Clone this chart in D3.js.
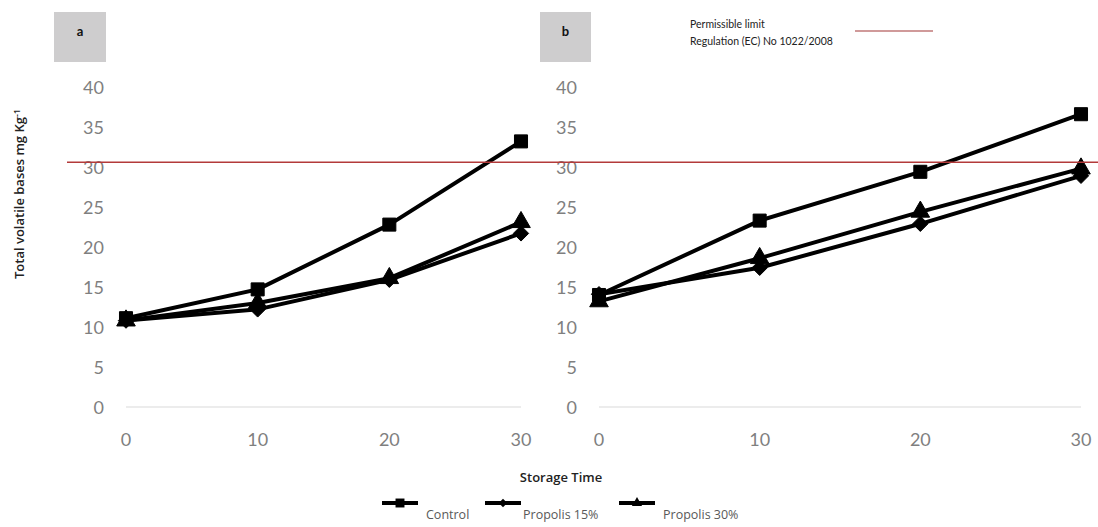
<!DOCTYPE html>
<html>
<head>
<meta charset="utf-8">
<script src="https://d3js.org/d3.v7.min.js"></script>
<style>
  body { margin: 0; background: #fff; }
  text { font-family: Lato, "Open Sans", sans-serif; }
</style>
</head>
<body>
<div id="vis"></div>
<script>
var width = 1098;
var height = 527;

// storage time (days)
var days = [0, 10, 20, 30];
var yTicks = [0, 5, 10, 15, 20, 25, 30, 35, 40];
var limit = 30.6;

// panel a
var controlA = [11.1, 14.7, 22.8, 33.2];
var prop15A = [10.8, 12.2, 15.9, 21.7];
var prop30A = [10.8, 13.0, 16.1, 23.1];

// panel b
var controlB = [14.0, 23.3, 29.4, 36.6];
var prop15B = [14.1, 17.4, 22.9, 28.9];
var prop30B = [13.2, 18.6, 24.4, 29.8];

var seriesNames = ["Control", "Propolis 15%", "Propolis 30%"];
var markers = ["square", "diamond", "triangle"];

var canvas = d3.select("#vis")
  .append("svg")
  .attr("width", width)
  .attr("height", height)
  .style("background-color", "#fff");

const y = d3.scaleLinear()
  .domain([0, 40])
  .range([407, 87]);

function markerPath(kind, size) {
  var sym = kind == "square" ? d3.symbolSquare : kind == "diamond" ? d3.symbolDiamond2 : d3.symbolTriangle;
  return d3.symbol().type(sym).size(size)();
}

function drawPanel(x0, x1, labelRight, box, letter, series) {
  const x = d3.scaleLinear()
    .domain([0, 30])
    .range([x0, x1]);

  // label box
  canvas.append("rect")
    .attr("x", box[0]).attr("y", 12)
    .attr("width", box[1] - box[0]).attr("height", 50)
    .style("fill", "#cecdce");
  canvas.append("text")
    .attr("x", (box[0] + box[1]) / 2)
    .attr("y", 36)
    .attr("text-anchor", "middle")
    .style("font-size", "13px")
    .style("font-weight", "bold")
    .style("fill", "#111")
    .text(letter);

  // zero gridline
  canvas.append("line")
    .attr("x1", x0).attr("x2", x1)
    .attr("y1", y(0)).attr("y2", y(0))
    .style("stroke", "#d9d9d9")
    .style("stroke-width", 1.2);

  // y tick labels
  canvas.append("g").selectAll("text")
    .data(yTicks)
    .enter()
    .append("text")
    .attr("x", labelRight)
    .attr("y", d => y(d) + 6.5)
    .attr("text-anchor", "end")
    .style("font-size", "18px")
    .style("fill", "#7f7f7f")
    .text(d => d);

  // x tick labels
  canvas.append("g").selectAll("text")
    .data(days)
    .enter()
    .append("text")
    .attr("x", d => x(d))
    .attr("y", 446)
    .attr("text-anchor", "middle")
    .style("font-size", "18px")
    .style("fill", "#7f7f7f")
    .text(d => d);

  const line = d3.line()
    .x((d, i) => x(days[i]))
    .y(d => y(d));

  series.forEach(function (vals, k) {
    canvas.append("path")
      .datum(vals)
      .attr("d", line)
      .style("fill", "none")
      .style("stroke", "#000")
      .style("stroke-width", 4)
      .style("stroke-linejoin", "round");
  });
  series.forEach(function (vals, k) {
    var sz = markers[k] == "square" ? 170 : 150;
    canvas.append("g").selectAll("path")
      .data(vals)
      .enter()
      .append("path")
      .attr("d", markerPath(markers[k], sz))
      .attr("transform", (d, i) => `translate(${x(days[i])}, ${y(d)})`)
      .style("fill", "#000")
      .style("stroke", "#000")
      .style("stroke-width", 1);
  });
}

drawPanel(126, 521, 104, [54, 106], "a", [controlA, prop15A, prop30A]);
drawPanel(599, 1081, 577, [540, 591], "b", [controlB, prop15B, prop30B]);

// permissible limit line across both panels
canvas.append("line")
  .attr("x1", 67).attr("x2", width)
  .attr("y1", y(limit)).attr("y2", y(limit))
  .style("stroke", "#b33a3a")
  .style("stroke-width", 1.5);

// limit legend
var limText = canvas.append("text")
  .attr("x", 690)
  .attr("y", 28)
  .style("font-size", "10.5px")
  .style("fill", "#222");
limText.append("tspan").text("Permissible limit");
limText.append("tspan").attr("x", 690).attr("dy", "17").text("Regulation (EC) No 1022/2008");

canvas.append("line")
  .attr("x1", 855).attr("x2", 933)
  .attr("y1", 31).attr("y2", 31)
  .style("stroke", "#c07878")
  .style("stroke-width", 1.5);

// axis titles
canvas.append("text")
  .attr("transform", "translate(24, 194) rotate(-90)")
  .attr("text-anchor", "middle")
  .style("font-family", "'Open Sans', sans-serif")
  .style("font-size", "13px")
  .style("font-weight", "600")
  .style("fill", "#222")
  .text("Total volatile bases mg Kg")
  .append("tspan")
  .attr("dy", "-0.5em")
  .style("font-size", "9px")
  .text("-1");

canvas.append("text")
  .attr("x", 561)
  .attr("y", 482)
  .attr("text-anchor", "middle")
  .style("font-family", "'Open Sans', sans-serif")
  .style("font-size", "13px")
  .style("font-weight", "600")
  .style("fill", "#222")
  .text("Storage Time");

// bottom legend
var legendX = [382, 485, 619];
var legendTextX = [426, 523, 663];
var legend = canvas.append("g").attr("class", "legend");
seriesNames.forEach(function (name, k) {
  legend.append("line")
    .attr("x1", legendX[k]).attr("x2", legendX[k] + 36)
    .attr("y1", 503).attr("y2", 503)
    .style("stroke", "#000")
    .style("stroke-width", 4);
  legend.append("path")
    .attr("d", markerPath(markers[k], markers[k] == "square" ? 80 : 45))
    .attr("transform", `translate(${legendX[k] + 18}, 503)`)
    .style("fill", "#000");
  legend.append("text")
    .attr("x", legendTextX[k])
    .attr("y", 519)
    .style("font-family", "'Open Sans', sans-serif")
    .style("font-size", "12.5px")
    .style("fill", "#595959")
    .text(name);
});
</script>
</body>
</html>
